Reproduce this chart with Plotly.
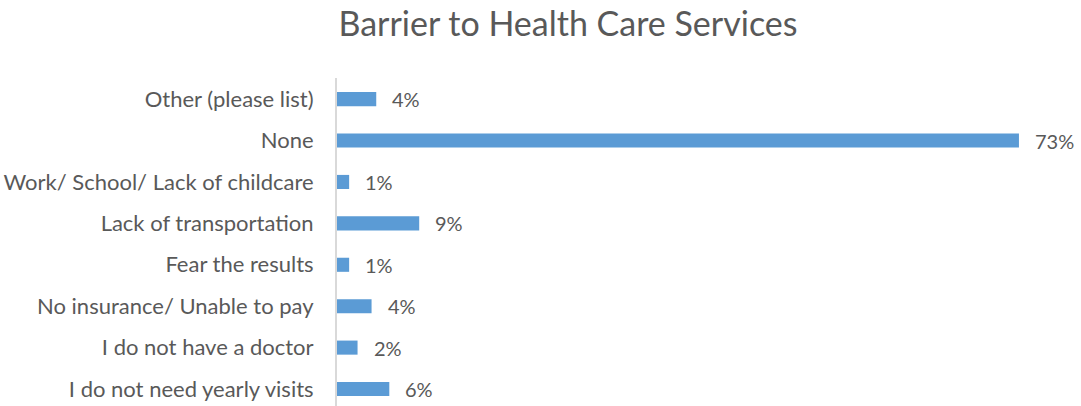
import plotly.graph_objects as go

categories = ["I do not need yearly visits", "I do not have a doctor", "No insurance/ Unable to pay",
              "Fear the results", "Lack of transportation", "Work/ School/ Lack of childcare",
              "None", "Other (please list)"]
values = [5.6, 2.2, 3.7, 1.3, 8.8, 1.3, 73.0, 4.2]
labels = ["6%", "2%", "4%", "1%", "9%", "1%", "73%", "4%"]

FONT = "Lato"
GREY = "#595959"

fig = go.Figure(go.Bar(
    y=categories, x=values, orientation="h",
    marker=dict(color="#5B9BD5", line=dict(width=0)),
    width=0.34, hoverinfo="skip",
))

for c, v, t in zip(categories, values, labels):
    fig.add_annotation(x=v, y=c, text=t, showarrow=False, xanchor="left", xshift=14,
                       font=dict(family=FONT, size=20, color=GREY))

fig.update_layout(
    width=1081, height=406,
    margin=dict(l=337, r=6, t=78, b=0),
    paper_bgcolor="white", plot_bgcolor="white",
    showlegend=False,
    title=dict(text="Barrier to Health Care Services", x=568/1081, xanchor="center",
               y=1 - 24/406, yanchor="middle",
               font=dict(family=FONT, size=34, color=GREY)),
    xaxis=dict(range=[0, 79], visible=False, showgrid=False, zeroline=False),
    yaxis=dict(range=[-0.41, 7.51], showgrid=False, zeroline=False,
               showline=True, linecolor="#D9D9D9", linewidth=2,
               ticks="", ticklabelstandoff=17,
               tickfont=dict(family=FONT, size=22, color=GREY)),
)

fig.write_html("out.html")
